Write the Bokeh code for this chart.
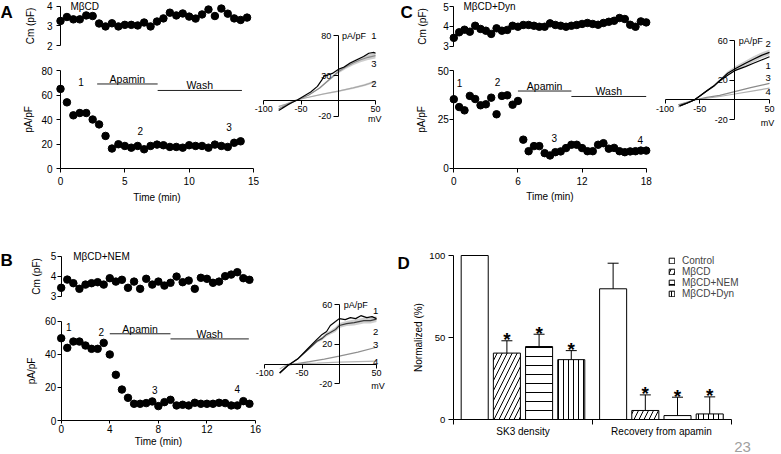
from bokeh.plotting import figure
from bokeh.models import (Range1d, LinearAxis, FixedTicker, Label, ColumnDataSource,
                          Whisker, TeeHead, Legend, LegendItem)
from bokeh.core.properties import value
from bokeh.embed import file_html
from bokeh.resources import INLINE

FONT = "Liberation Sans"

# ---------------- DATA ----------------
# Panel A : MbetaCD
a_t = [0, 0.5, 1, 1.5, 2, 2.5, 3, 3.5, 4, 4.5, 5, 5.5, 6, 6.5, 7, 7.5, 8, 8.5, 9, 9.5,
       10, 10.5, 11, 11.5, 12, 12.5, 13, 13.5, 14, 14.5]
a_cm = [3.25, 3.45, 3.33, 3.33, 3.53, 3.5, 3.12, 2.97, 3.13, 2.97, 3.05, 3.05, 3.02, 3.17, 2.97,
        3.22, 3.38, 3.67, 3.53, 3.63, 3.47, 3.37, 3.58, 3.83, 3.5, 3.88, 3.62, 3.38, 3.3, 3.42]
a_cur = [65, 54, 43.4, 45.3, 45.3, 40, 36, 26.6, 16.3, 19.8, 18.4, 17, 18.4, 15.7, 18.4, 19.5,
         19, 17.6, 17.6, 17, 19, 18.4, 18.4, 17, 19.5, 18.4, 17.6, 21, 22.2]
a_apamin = [2.85, 7.55]
a_wash = [7.55, 14.1]
a_bar_level = [69, 63.7]
a_mark_t = [1.6, 6.2, 13.1]
a_mark_y = [70.4, 31, 34]
a_mark_txt = ["1", "2", "3"]

a_iv1_mv = [-80, -75, -68, -62, -55, -46, -37, -28, -22, -19, -14, -8, 0, 8, 16, 25, 34, 41, 48, 50]
a_iv1_pa = [-13, -10, -6, -3, 0, 5, 10, 17, 25, 30, 31, 33, 38, 41, 46, 50, 54, 58, 59, 58]
a_iv3_mv = [-80, -70, -55, -40, -25, -10, 0, 10, 20, 30, 40, 50]
a_iv3_pa = [-11, -6, 0, 6, 15, 27, 35, 41, 46, 50, 53, 55]
a_iv3_sem = [1, 0.5, 0, 0.5, 1, 1.5, 2, 2.5, 3, 3, 3.5, 3.5]
a_iv2_mv = [-80, -70, -57, -40, -20, 0, 20, 35, 50]
a_iv2_pa = [-8, -5, 0, 3.5, 7.5, 11, 15, 18.5, 23]
a_iv2_sem = [1, 0.5, 0, 0.5, 0.8, 1, 1.2, 1.5, 1.5]
a_ivlab_txt = ["1", "3", "2"]
a_ivlab_y = [80, 45, 20]

# Panel B : MbetaCD+NEM
b_t = [0, 0.5, 1, 1.5, 2, 2.5, 3, 3.5, 4, 4.5, 5, 5.5, 6, 6.5, 7, 7.5, 8, 8.5, 9, 9.5,
       10, 10.5, 11, 11.5, 12, 12.5, 13, 13.5, 14, 14.5, 15, 15.5]
b_cm = [3.42, 3.83, 3.65, 3.37, 3.58, 3.65, 3.7, 3.58, 3.9, 3.73, 3.82, 3.42, 3.73, 3.37, 3.87,
        3.58, 3.73, 3.53, 3.67, 3.98, 3.7, 3.78, 3.37, 3.92, 3.87, 3.67, 3.73, 4.0, 4.08, 4.2,
        3.9, 3.82]
b_cur = [49.7, 43.9, 47.7, 47.7, 45.3, 43.3, 43.3, 46.9, 39.9, 27.6, 18.7, 13.7, 10.1, 10.1,
         10.5, 11.5, 8.7, 11.1, 12.5, 9.1, 9.5, 9.1, 10.7, 10.1, 10.1, 10.1, 10.7, 10.5, 9.1,
         9.1, 11.7, 10.1]
b_apamin = [4.0, 9.0]
b_wash = [9.0, 15.45]
b_bar_level = [52.4, 49.3]
b_mark_t = [0.63, 3.3, 7.7, 14.5]
b_mark_y = [56.2, 53.4, 18.7, 19]
b_mark_txt = ["1", "2", "3", "4"]

b_iv1_mv = [-80, -69, -56, -43, -30, -23, -17, -12, -5, 0, 8, 15, 22, 29, 37, 44, 50]
b_iv1_pa = [-9, -1.5, 5, 15, 25, 30, 33, 39, 43, 46, 45, 47, 46, 49, 47, 48, 46]
b_iv2_mv = [-80, -69, -56, -43, -30, -23, -17, -12, -5, 0, 10, 20, 33, 42, 50]
b_iv2_pa = [-9, -1.5, 5, 14, 23, 26, 30, 32, 35, 39, 41, 42, 44, 44, 45.5]
b_iv2_sem = [1, 0.5, 0.5, 1, 1.5, 2, 2, 2, 2.5, 2.5, 2.5, 3, 3, 3, 3]
b_iv3_mv = [-80, -69, -40, -20, 0, 25, 50]
b_iv3_pa = [-9, -1, 2.5, 5, 8, 12, 17]
b_iv4_mv = [-80, -69, -30, 0, 50]
b_iv4_pa = [-5, 0, 1, 2, 3]
b_ivlab_txt = ["1", "2", "3", "4"]
b_ivlab_y = [54.2, 32.2, 19.4, 1.8]

# Panel C : MbetaCD+Dyn
c_t = [0, 0.5, 1, 1.5, 2, 2.5, 3, 3.5, 4, 4.5, 5, 5.5, 6, 6.5, 7, 7.5, 8, 8.5, 9, 9.5,
       10, 10.5, 11, 11.5, 12, 12.5, 13, 13.5, 14, 14.5, 15, 15.5, 16, 16.5, 17, 17.5, 18]
c_cm = [3.42, 3.7, 3.83, 3.73, 4.03, 3.87, 3.78, 3.62, 3.9, 3.78, 3.82, 4.03, 3.98, 4.07, 4.07,
        4.03, 3.98, 3.98, 4.15, 4.07, 4.03, 3.98, 4.03, 4.07, 4.12, 4.17, 4.12, 4.08, 4.17, 4.23,
        4.28, 4.42, 4.37, 4.08, 3.98, 4.25, 4.2]
c_cur = [35.3, 31.3, 29.6, 37.0, 35.4, 32.2, 32.7, 36.1, 27.6, 37.0, 37.3, 32.5, 34.4, 14.6, 8.7,
         11.3, 11.3, 7.7, 6.5, 8.2, 8.6, 10.3, 12.0, 12.0, 10.3, 8.7, 8.7, 12.0, 12.8, 10.0, 10.4,
         8.7, 8.2, 8.6, 8.7, 9.0, 9.0]
c_apamin = [6.0, 11.0]
c_wash = [11.0, 18.0]
c_bar_level = [39.5, 36.7]
c_mark_t = [0.54, 4.1, 9.4, 17.45]
c_mark_y = [43.8, 44, 15.6, 14.5]
c_mark_txt = ["1", "2", "3", "4"]

c_iv2_mv = [-79, -68, -58, -50, -40, -30, -21.5, -10, 2, 15.5, 27, 38.5, 50]
c_iv2_pa = [-6, -3, 0, 4, 9.4, 14, 19.5, 27, 32, 37, 41, 45, 48]
c_iv2_sem = [0.5, 0.3, 0, 0.5, 1, 1.5, 1.5, 2, 2.5, 2.5, 3, 3, 3]
c_iv1_mv = [-79, -68, -58, -50, -40, -30, -21.5, -10, 0, 15.5, 27, 38.5, 50]
c_iv1_pa = [-6, -3, 0, 4, 9, 14, 19.5, 25, 29.6, 33.6, 37, 40.3, 43.6]
c_iv3_mv = [-81, -58, -40, -21.5, 0, 23, 50]
c_iv3_pa = [-5, 0, 2.7, 4.7, 8.4, 12.4, 16.8]
c_iv4_mv = [-81, -58, -21.5, 0, 25, 50]
c_iv4_pa = [-7, 0, 3.5, 6, 9, 12]
c_ivlab_txt = ["2", "1", "3", "4"]
c_ivlab_y = [56.4, 34.6, 22.5, 8.4]

# Panel D : summary
d_groups = ["SK3 density", "Recovery from apamin"]
d_conditions = ["Control", "MβCD", "MβCD+NEM", "MβCD+Dyn"]
d_sk3 = [100, 40.5, 44.5, 36.5]
d_sk3_err = [0, 7.5, 7.5, 5.5]
d_rec = [79.7, 5.5, 2.4, 3.4]
d_rec_err = [15.6, 9.5, 11.2, 10.4]
d_sig = [[False, True, True, True], [False, True, True, True]]

# ---------------- LAYOUT ----------------
W, H = 781, 454
PX0, PY0 = 0, 0


def cal(v1, p1, v2, p2, lo, hi):
    s = (v2 - v1) / (p2 - p1)
    return Range1d(start=v1 + (lo - p1) * s, end=v1 + (hi - p1) * s)


def xr(v1, p1, v2, p2):
    return cal(v1, p1, v2, p2, PX0, PX0 + W)


def yr(v1, p1, v2, p2):
    return cal(v1, p1, v2, p2, PY0 + H, PY0)


p = figure(width=W, height=H, x_range=Range1d(PX0, PX0 + W), y_range=Range1d(PY0 + H, PY0),
           x_axis_type=None, y_axis_type=None, toolbar_location=None, output_backend="svg",
           min_border=0, outline_line_color=None)
p.background_fill_color = "white"
p.border_fill_color = "white"

# bar slot geometry for panel D
X0, GSTEP, BW = 0.668, 4.3, 0.84
D_END = X0 + GSTEP + 3 + X0

p.extra_x_ranges = {
    "ax": xr(0, 60, 15, 253),
    "aivx": xr(-100, 263.3, 50, 375),
    "cx": xr(0, 453.3, 18, 645.7),
    "civx": xr(-100, 664.5, 50, 769),
    "bx": xr(0, 60.7, 16, 255),
    "bivx": xr(-100, 264.3, 50, 376),
    "dx": xr(0, 452.7, D_END, 730.7),
}
p.extra_y_ranges = {
    "acm": yr(4, 5.7, 2, 45),
    "acur": yr(80, 70, 0, 168),
    "aivy": yr(80, 35, -20, 115.7),
    "ccm": yr(5, 6, 3, 45.7),
    "ccur": yr(50, 70, 0, 167.7),
    "civy": yr(60, 40, -20, 119.3),
    "bcm": yr(5, 255.7, 3, 295.7),
    "bcur": yr(60, 320.7, 0, 420),
    "bivy": yr(60, 304.3, -20, 383.3),
    "dy": yr(100, 255, 0, 419),
}


def axis(side, xn, yn, loc, bounds, ticks, label=None, fs="10px", tick_out=4, std=4,
         lab_std=5, overrides=None, lab_fs="10px"):
    a = LinearAxis(x_range_name=xn, y_range_name=yn, fixed_location=loc, bounds=bounds,
                   ticker=FixedTicker(ticks=ticks, minor_ticks=[]), axis_label=label)
    a.axis_line_color = "black"
    a.axis_line_width = 1
    a.major_tick_line_color = "black"
    a.major_tick_line_width = 1
    a.major_tick_out = int(tick_out)
    a.major_tick_in = 0
    a.minor_tick_line_color = None
    a.major_label_text_font = FONT
    a.major_label_text_font_size = fs
    a.major_label_text_color = "black"
    a.major_label_standoff = int(round(std))
    a.axis_label_text_font = FONT
    a.axis_label_text_font_size = lab_fs
    a.axis_label_text_font_style = "normal"
    a.axis_label_text_color = "black"
    a.axis_label_standoff = int(round(lab_std))
    if overrides:
        a.major_label_overrides = overrides
    p.add_layout(a, side)
    return a


NEG = {-100: "-100", -50: "-50", -20: "-20"}


def lab(x, y, text, xn="default", yn="default", fs="10px", align="center", base="middle",
        bold=False, color="black"):
    p.add_layout(Label(x=x, y=y, text=text, x_range_name=xn, y_range_name=yn, text_font=FONT,
                       text_font_size=fs, text_align=align, text_baseline=base,
                       text_color=color, text_font_style="bold" if bold else "normal"))


def texts(xs, ys, tx, xn, yn, fs="10px", yoff=0, base="middle", align="center"):
    p.text(x=xs, y=ys, text=tx, x_range_name=xn, y_range_name=yn, text_font=value(FONT),
           text_font_size=fs, text_align=align, text_baseline=base, text_color="black",
           y_offset=yoff)


def time_panel(xn, cmn, curn, t, cm, cur, cur_t, apamin, wash, levels, mt, my, mtx,
               cm_ticks, cur_ticks, t_ticks, lab_cm, lab_cur, xstd, xlab,
               ytick_std, xtick_out):
    axis("left", xn, cmn, 0, (cm_ticks[0], cm_ticks[-1]), cm_ticks, "Cm (pF)",
         std=ytick_std, lab_std=lab_cm)
    axis("left", xn, curn, 0, (cur_ticks[0], cur_ticks[-1]), cur_ticks, "pA/pF",
         std=ytick_std, lab_std=lab_cur)
    axis("below", xn, curn, 0, (t_ticks[0], t_ticks[-1]), t_ticks, "Time (min)",
         tick_out=xtick_out, std=xstd, lab_std=xlab)
    p.scatter(t, cm, size=7.5, color="black", x_range_name=xn, y_range_name=cmn)
    p.scatter(cur_t, cur, size=7.5, color="black", x_range_name=xn, y_range_name=curn)
    p.segment(x0=[apamin[0], wash[0]], y0=levels, x1=[apamin[1], wash[1]], y1=levels,
              line_color="#222222", line_width=1, x_range_name=xn, y_range_name=curn)
    texts([(apamin[0] + apamin[1]) / 2, (wash[0] + wash[1]) / 2], levels, ["Apamin", "Wash"],
          xn, curn, fs="10.5px", yoff=1, base="bottom")
    texts(mt, my, mtx, xn, curn)


def band(mv, pa, sem, xn, yn, color="#c9c9c9"):
    p.varea(x=mv, y1=[a - s for a, s in zip(pa, sem)], y2=[a + s for a, s in zip(pa, sem)],
            fill_color=color, fill_alpha=0.9, x_range_name=xn, y_range_name=yn)


def curve(mv, pa, xn, yn, color, w=1.2):
    p.line(mv, pa, line_color=color, line_width=w, x_range_name=xn, y_range_name=yn)


def iv_axes(xn, yn, yticks):
    axis("below", xn, yn, 0, (-100, 50), [-100, -50, 50], fs="9px", tick_out=4, std=2,
         overrides=NEG)
    axis("left", xn, yn, 0, (yticks[0], yticks[-1]), yticks, fs="9px", tick_out=5, std=2,
         overrides=NEG)


# ---- Panel A ----
time_panel("ax", "acm", "acur", a_t, a_cm, a_cur, a_t[:len(a_cur)], a_apamin, a_wash,
           a_bar_level, a_mark_t, a_mark_y, a_mark_txt, [2, 3, 4], [0, 20, 40, 60, 80],
           [0, 5, 10, 15], 8, 4, 4, 4, 4, 4)
band(a_iv3_mv, a_iv3_pa, a_iv3_sem, "aivx", "aivy")
band(a_iv2_mv, a_iv2_pa, a_iv2_sem, "aivx", "aivy", color="#d8d8d8")
curve(a_iv2_mv, a_iv2_pa, "aivx", "aivy", "#a8a8a8")
curve(a_iv3_mv, a_iv3_pa, "aivx", "aivy", "#8a8a8a")
curve(a_iv1_mv, a_iv1_pa, "aivx", "aivy", "black")
iv_axes("aivx", "aivy", [-20, 30, 80])
texts([48] * 3, a_ivlab_y, a_ivlab_txt, "aivx", "aivy", fs="9.5px")
lab(5, 80, "pA/pF", "aivx", "aivy", fs="9px", align="left")
lab(49, -24, "mV", "aivx", "aivy", fs="9px")

# ---- Panel B ----
time_panel("bx", "bcm", "bcur", b_t, b_cm, b_cur, b_t, b_apamin, b_wash, b_bar_level,
           b_mark_t, b_mark_y, b_mark_txt, [3, 4, 5], [0, 20, 40, 60], [0, 4, 8, 12, 16],
           6, 5, 1, 0, 1, 3)
band(b_iv2_mv, b_iv2_pa, b_iv2_sem, "bivx", "bivy")
curve(b_iv4_mv, b_iv4_pa, "bivx", "bivy", "#b5b5b5")
curve(b_iv3_mv, b_iv3_pa, "bivx", "bivy", "#909090")
curve(b_iv2_mv, b_iv2_pa, "bivx", "bivy", "#3a3a3a")
curve(b_iv1_mv, b_iv1_pa, "bivx", "bivy", "black")
iv_axes("bivx", "bivy", [-20, 20, 60])
texts([49] * 4, b_ivlab_y, b_ivlab_txt, "bivx", "bivy", fs="9.5px")
lab(6, 60, "pA/pF", "bivx", "bivy", fs="9px", align="left")
lab(52, -22, "mV", "bivx", "bivy", fs="9px")

# ---- Panel C ----
time_panel("cx", "ccm", "ccur", c_t, c_cm, c_cur, c_t, c_apamin, c_wash, c_bar_level,
           c_mark_t, c_mark_y, c_mark_txt, [3, 4, 5], [0, 25, 50], [0, 6, 12, 18],
           12, 7, 5, 2, 1, 4)
band(c_iv2_mv, c_iv2_pa, c_iv2_sem, "civx", "civy")
curve(c_iv4_mv, c_iv4_pa, "civx", "civy", "#b0b0b0")
curve(c_iv3_mv, c_iv3_pa, "civx", "civy", "#8a8a8a")
curve(c_iv2_mv, c_iv2_pa, "civx", "civy", "black")
curve(c_iv1_mv, c_iv1_pa, "civx", "civy", "black")
iv_axes("civx", "civy", [-20, 20, 60])
texts([48] * 4, c_ivlab_y, c_ivlab_txt, "civx", "civy", fs="9.5px")
lab(6, 60, "pA/pF", "civx", "civy", fs="9px", align="left")
lab(47, -23.5, "mV", "civx", "civy", fs="9px")

# ---- Panel D ----
hatches = [None, "/", "-", "|"]
hscales = [10, 10, 9, 5]
items = []
for i, cond in enumerate(d_conditions):
    xs = [X0 + i + g * GSTEP for g in range(2)]
    tops = [d_sk3[i], d_rec[i]]
    r = p.vbar(x=xs, top=tops, bottom=0, width=BW, fill_color="white", line_color="black",
               line_width=1, hatch_pattern=hatches[i], hatch_color="black",
               hatch_scale=hscales[i], hatch_weight=1, x_range_name="dx", y_range_name="dy")
    items.append(LegendItem(label=cond, renderers=[r]))

vals = [d_sk3, d_rec]
errs = [d_sk3_err, d_rec_err]
wx, wlo, whi, sx, sy = [], [], [], [], []
for g in range(2):
    for i in range(4):
        x = X0 + i + g * GSTEP
        if errs[g][i] > 0:
            wx.append(x)
            wlo.append(vals[g][i])
            whi.append(vals[g][i] + errs[g][i])
        if d_sig[g][i]:
            sx.append(x)
            sy.append(vals[g][i] + errs[g][i])
wsrc = ColumnDataSource(dict(x=wx, lo=wlo, hi=whi))
p.add_layout(Whisker(source=wsrc, base="x", lower="lo", upper="hi", dimension="height",
                     line_color="black", line_width=1, upper_head=TeeHead(size=11, line_width=1),
                     lower_head=None, x_range_name="dx", y_range_name="dy", level="glyph"))
p.text(x=sx, y=sy, text=["*"] * len(sx), x_range_name="dx", y_range_name="dy",
       text_font=value(FONT), text_font_size="19px", text_font_style="bold",
       text_align="center", text_baseline="alphabetic", y_offset=-1, text_color="black")

axis("left", "dx", "dy", 0, (0, 100), [0, 50, 100], "Normalized (%)", fs="9.5px",
     tick_out=5, std=3, lab_std=3)
mid = X0 + (3 + GSTEP) / 2
axis("below", "dx", "dy", 0, (0, D_END), [0, mid, D_END], tick_out=5,
     overrides={0: "", mid: "", D_END: ""})
gc = [X0 + 1.5 + g * GSTEP for g in range(2)]
ga = axis("below", "dx", "dy", 0, (0, D_END), gc, tick_out=0, std=6,
          overrides={gc[0]: d_groups[0], gc[1]: d_groups[1]})
ga.axis_line_color = None
ga.major_tick_line_color = None

legend = Legend(items=items, location=(668, 155), orientation="vertical", glyph_width=7,
                glyph_height=7, label_text_font=FONT, label_text_font_size="10px",
                label_standoff=7, spacing=0, padding=0, margin=0, border_line_color=None,
                background_fill_alpha=0, label_height=10)
p.add_layout(legend)

# ---- panel letters, condition names, slide number ----
lab(0, 2, "A", fs="17px", align="left", base="top", bold=True)
lab(400, 2, "C", fs="17px", align="left", base="top", bold=True)
lab(0, 250, "B", fs="17px", align="left", base="top", bold=True)
lab(397, 253, "D", fs="17px", align="left", base="top", bold=True)
lab(70, 5.5, "MβCD", align="left")
lab(463, 6, "MβCD+Dyn", align="left")
lab(72.7, 255.7, "MβCD+NEM", align="left")
lab(742, 446, "23", fs="15px", color="#a0a0a0")

open("out.html", "w").write(file_html(p, INLINE))
